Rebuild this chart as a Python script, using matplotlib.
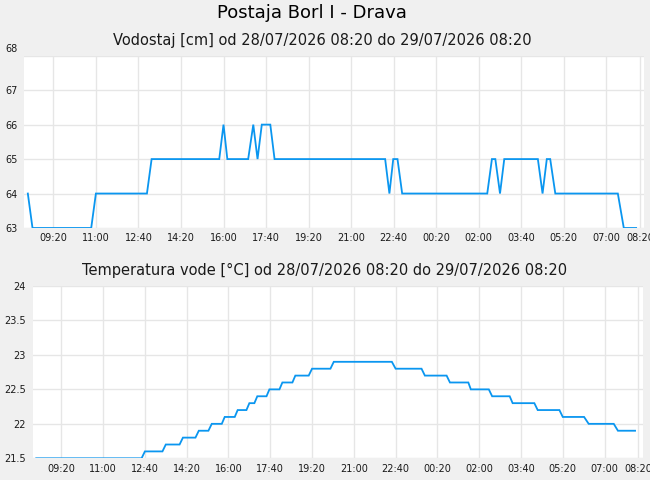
import matplotlib
matplotlib.use("Agg")
import matplotlib.pyplot as plt
from matplotlib.transforms import ScaledTranslation

# time axis: minutes since 28/07/2026 08:20
level_t = [0, 11, 149, 160, 280, 291, 450, 460, 469, 518, 530, 540, 550, 570, 580,
           840, 850, 859, 869, 880, 1080, 1091, 1099, 1110, 1120, 1199, 1210, 1220,
           1228, 1240, 1387, 1401, 1430]
level_v = [64, 63, 63, 64, 64, 65, 65, 66, 65, 65, 66, 65, 66, 66, 65,
           65, 64, 65, 65, 64, 64, 65, 65, 64, 65, 65, 64, 65,
           65, 64, 64, 63, 63]

temp_t = [0, 252, 260, 302, 310, 343, 351, 381, 389, 412,
          420, 444, 451, 475, 482, 503, 510, 522, 529, 551,
          558, 582, 589, 613, 620, 652, 660, 704, 712, 851,
          860, 922, 930, 982, 990, 1034, 1040, 1083, 1091, 1133,
          1140, 1192, 1200, 1252, 1260, 1311, 1322, 1382, 1392, 1433]
temp_v = [21.5, 21.5, 21.6, 21.6, 21.7, 21.7, 21.8, 21.8, 21.9, 21.9,
          22.0, 22.0, 22.1, 22.1, 22.2, 22.2, 22.3, 22.3, 22.4, 22.4,
          22.5, 22.5, 22.6, 22.6, 22.7, 22.7, 22.8, 22.8, 22.9, 22.9,
          22.8, 22.8, 22.7, 22.7, 22.6, 22.6, 22.5, 22.5, 22.4, 22.4,
          22.3, 22.3, 22.2, 22.2, 22.1, 22.1, 22.0, 22.0, 21.9, 21.9]

x_tick_labels = ["09:20", "11:00", "12:40", "14:20", "16:00", "17:40", "19:20",
                 "21:00", "22:40", "00:20", "02:00", "03:40", "05:20", "07:00", "08:20"]
level_ticks = [63, 64, 65, 66, 67, 68]
temp_ticks = [21.5, 22, 22.5, 23, 23.5, 24]
temp_tick_labels = ["21.5", "22", "22.5", "23", "23.5", "24"]

title = "Postaja Borl I - Drava"
sub1 = "Vodostaj [cm] od 28/07/2026 08:20 do 29/07/2026 08:20"
sub2 = "Temperatura vode [°C] od 28/07/2026 08:20 do 29/07/2026 08:20"

START = 8 * 60 + 20


def tick_minutes(labels):
    out = []
    prev = -1
    for lab in labels:
        h, m = lab.split(":")
        t = (int(h) * 60 + int(m) - START) % 1440
        while t <= prev:
            t += 1440
        out.append(t)
        prev = t
    return out


x_ticks = tick_minutes(x_tick_labels)

BG = "#f0f0f0"
GRID = "#e6e6e6"
LINE = "#0a96f0"
TXT = "#1a1a1a"

plt.rcParams["font.family"] = ["DejaVu Sans"]
fig = plt.figure(figsize=(6.5, 4.8), dpi=100, facecolor=BG)

ax1 = fig.add_axes([24 / 650, 1 - 228 / 480, 620 / 650, 172.3 / 480])
ax2 = fig.add_axes([32.7 / 650, 1 - 458.3 / 480, 610.3 / 650, 172.3 / 480])

for ax in (ax1, ax2):
    ax.set_facecolor("white")
    for s in ax.spines.values():
        s.set_visible(False)
    ax.grid(True, color=GRID, linewidth=1.0)
    ax.set_axisbelow(True)
    ax.set_xticks(x_ticks)
    ax.set_xticklabels(x_tick_labels)
    ax.tick_params(axis="both", length=0, labelsize=7, colors=TXT)
    ax.tick_params(axis="x", pad=3.8)
    ax.tick_params(axis="y", pad=4.8)

ax1.plot(level_t, level_v, color=LINE, linewidth=1.3, solid_joinstyle="miter")
ax1.set_xlim(-9, 1448.5)
ax1.set_ylim(63, 68)
ax1.set_yticks(level_ticks)
ax1.set_yticklabels([str(v) for v in level_ticks])
# top label sits a little above its grid line
top_lab = ax1.get_yticklabels()[-1]
top_lab.set_transform(top_lab.get_transform() + ScaledTranslation(0, 8 / 100, fig.dpi_scale_trans))

ax2.plot(temp_t, temp_v, color=LINE, linewidth=1.3, solid_joinstyle="miter")
ax2.set_xlim(-8.5, 1452)
ax2.set_ylim(21.5, 24)
ax2.set_yticks(temp_ticks)
ax2.set_yticklabels(temp_tick_labels)

fig.text(312 / 650, 1 - 13.5 / 480, title, ha="center", va="center", fontsize=13, color="black")
fig.text(322 / 650, 1 - 40 / 480, sub1, ha="center", va="center", fontsize=10.5, color=TXT)
fig.text(325 / 650, 1 - 270 / 480, sub2, ha="center", va="center", fontsize=10.5, color=TXT)

fig.savefig("out.png", dpi=100, facecolor=BG)
